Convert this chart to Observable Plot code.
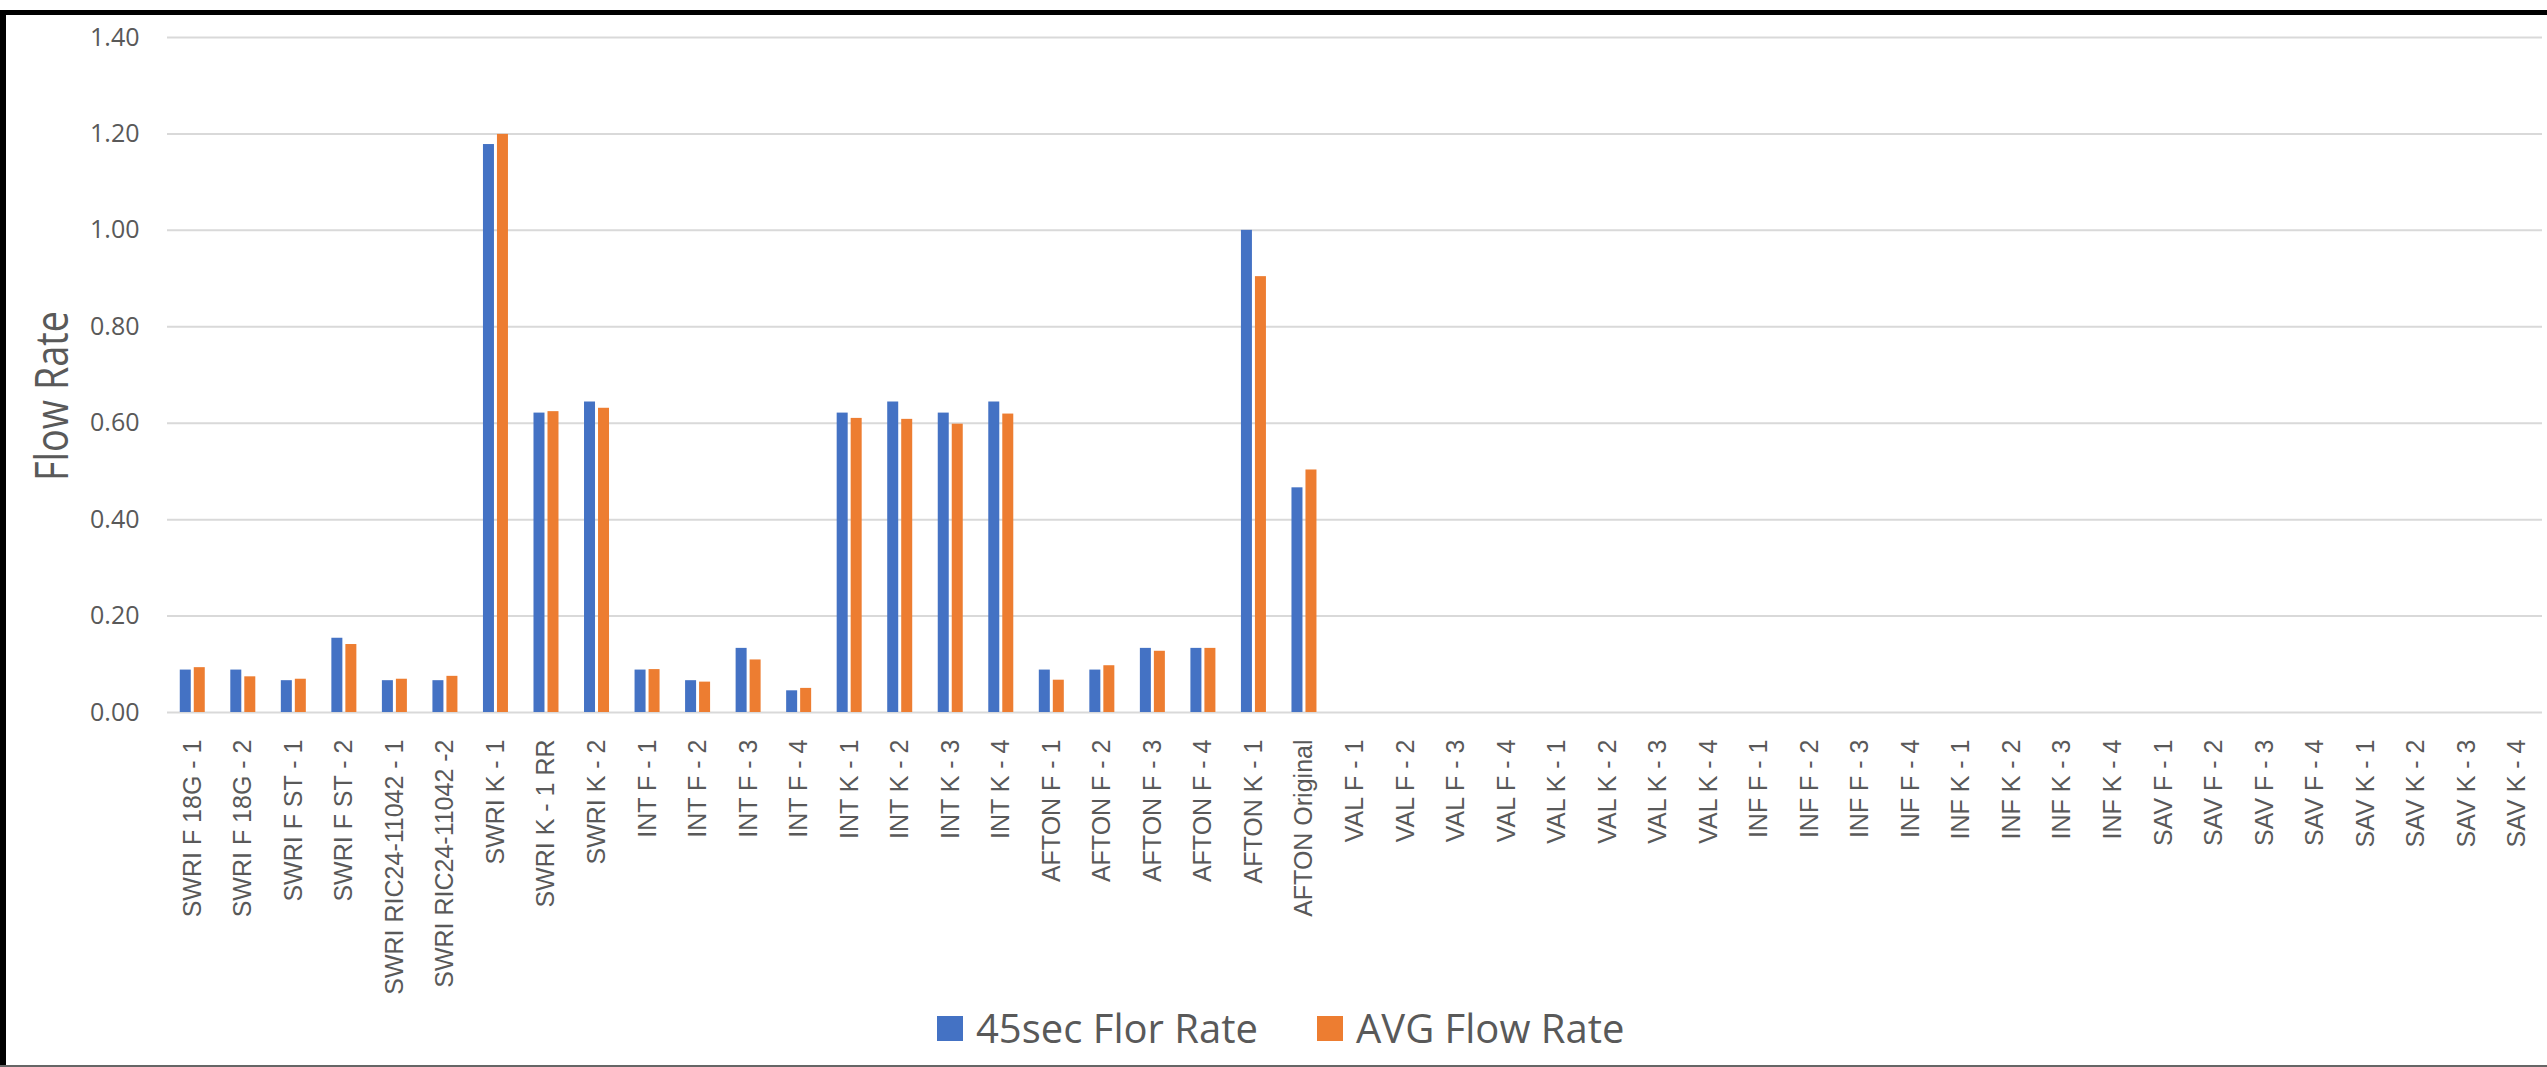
<!DOCTYPE html>
<html>
<head>
<meta charset="utf-8">
<script src="https://cdn.jsdelivr.net/npm/d3@7"></script>
<script src="https://cdn.jsdelivr.net/npm/@observablehq/plot@0.6"></script>
<style>
  html, body { margin: 0; padding: 0; background: #fff; }
  body { width: 2547px; height: 1067px; overflow: hidden; position: relative; font-family: "Open Sans", sans-serif; }
  #chart { position: absolute; left: 0; top: 0; }
  .edge { position: absolute; }
  #legend { position: absolute; left: 937px; top: 1008px; height: 40px; display: flex; align-items: center;
            font-family: "Open Sans", sans-serif; font-size: 40px; line-height: 40px; color: #595959; white-space: nowrap; }
  .item { display: flex; align-items: center; }
  .sw { width: 26px; height: 25px; margin-right: 13px; }
</style>
</head>
<body>
<div id="chart"></div>
<div class="edge" style="left:0;top:10px;width:2547px;height:5px;background:#000"></div>
<div class="edge" style="left:0;top:10px;width:6px;height:1057px;background:#000"></div>
<div class="edge" style="left:0;top:1065px;width:2547px;height:2px;background:#666"></div>
<div id="legend"></div>
<script>
const categories = [
  "SWRI F 18G - 1", "SWRI F 18G - 2", "SWRI F ST - 1", "SWRI F ST - 2",
  "SWRI RIC24-11042 - 1", "SWRI RIC24-11042 -2", "SWRI K - 1", "SWRI K - 1 RR", "SWRI K - 2",
  "INT F - 1", "INT F - 2", "INT F - 3", "INT F - 4",
  "INT K - 1", "INT K - 2", "INT K - 3", "INT K - 4",
  "AFTON F - 1", "AFTON F - 2", "AFTON F - 3", "AFTON F - 4", "AFTON K - 1", "AFTON Original",
  "VAL F - 1", "VAL F - 2", "VAL F - 3", "VAL F - 4",
  "VAL K - 1", "VAL K - 2", "VAL K - 3", "VAL K - 4",
  "INF F - 1", "INF F - 2", "INF F - 3", "INF F - 4",
  "INF K - 1", "INF K - 2", "INF K - 3", "INF K - 4",
  "SAV F - 1", "SAV F - 2", "SAV F - 3", "SAV F - 4",
  "SAV K - 1", "SAV K - 2", "SAV K - 3", "SAV K - 4"
];

const flow45 = [
  0.088, 0.088, 0.066, 0.154, 0.066, 0.066, 1.178, 0.621, 0.644,
  0.088, 0.066, 0.133, 0.045,
  0.621, 0.644, 0.621, 0.644,
  0.088, 0.088, 0.133, 0.133, 1.000, 0.466,
  0, 0, 0, 0, 0, 0, 0, 0,
  0, 0, 0, 0, 0, 0, 0, 0,
  0, 0, 0, 0, 0, 0, 0, 0
];

const flowAvg = [
  0.093, 0.074, 0.069, 0.141, 0.069, 0.075, 1.199, 0.624, 0.631,
  0.089, 0.063, 0.109, 0.050,
  0.610, 0.608, 0.598, 0.619,
  0.067, 0.097, 0.127, 0.133, 0.904, 0.503,
  0, 0, 0, 0, 0, 0, 0, 0,
  0, 0, 0, 0, 0, 0, 0, 0,
  0, 0, 0, 0, 0, 0, 0, 0
];

const seriesNames = ["45sec Flor Rate", "AVG Flow Rate"];
const seriesColors = ["#4472C4", "#ED7D31"];
const yTicks = [0, 0.2, 0.4, 0.6, 0.8, 1.0, 1.2, 1.4];
const yTitle = "Flow Rate";

const W = 2547, H = 1000;
const mL = 167, mR = 5, mT = 37, mB = 288;
const bw = (W - mL - mR) / categories.length;
const half = bw / 2;
const barW = 11, gap = 1.5;

const d45 = categories.map((c, i) => ({cat: c, v: flow45[i]}));
const dAvg = categories.map((c, i) => ({cat: c, v: flowAvg[i]}));

const chart = Plot.plot({
  width: W,
  height: H,
  marginLeft: mL,
  marginRight: mR,
  marginTop: mT,
  marginBottom: mB,
  style: {fontFamily: "Liberation Sans, Arial, sans-serif", background: "transparent", overflow: "visible"},
  x: {type: "band", domain: categories, padding: 0, round: false, label: null},
  y: {domain: [0, 1.4], label: null},
  marks: [
    Plot.gridY(yTicks, {stroke: "#d9d9d9", strokeOpacity: 1, strokeWidth: 2}),
    Plot.axisY(yTicks, {tickSize: 0, tickPadding: 28, tickFormat: d3.format(".2f"), fontSize: 25,
                        fontFamily: "Open Sans", color: "#595959", label: null}),
    Plot.axisX({tickSize: 0, tickPadding: 27, tickRotate: -90, fontSize: 25,
                fontFamily: "Liberation Sans", color: "#595959", label: null}),
    Plot.barY(d45, {x: "cat", y: "v", fill: seriesColors[0],
                    insetLeft: half - gap - barW, insetRight: half + gap}),
    Plot.barY(dAvg, {x: "cat", y: "v", fill: seriesColors[1],
                     insetLeft: half + gap, insetRight: half - gap - barW}),
    Plot.text([yTitle], {text: d => d, frameAnchor: "left", textAnchor: "middle", rotate: -90,
                         dx: -114, dy: 21, fontSize: 45, fontFamily: "Open Sans", fill: "#595959"})
  ]
});
// the reference title is a condensed rendering: fit it to its measured length
for (const t of chart.querySelectorAll("text")) {
  if (t.textContent === yTitle) {
    t.setAttribute("textLength", 170);
    t.setAttribute("lengthAdjust", "spacingAndGlyphs");
  }
}
document.getElementById("chart").appendChild(chart);

const legend = document.getElementById("legend");
seriesNames.forEach((name, i) => {
  const item = document.createElement("div");
  item.className = "item";
  if (i > 0) item.style.marginLeft = "59px";
  const sw = document.createElement("div");
  sw.className = "sw";
  sw.style.background = seriesColors[i];
  const label = document.createElement("span");
  label.textContent = name;
  item.appendChild(sw);
  item.appendChild(label);
  legend.appendChild(item);
});
</script>
</body>
</html>
